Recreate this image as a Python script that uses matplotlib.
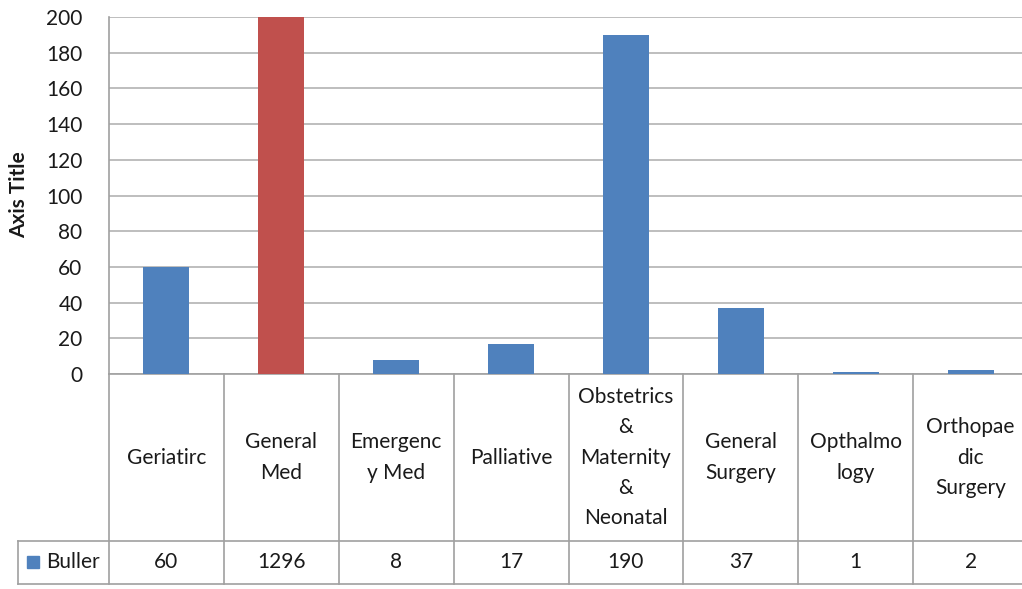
import matplotlib
matplotlib.use('AGG')
import matplotlib.pyplot as plt
import matplotlib.transforms as mtransforms
import numpy as np

plt.rcParams['font.family'] = ['Lato', 'DejaVu Sans']

categories = ['Geriatirc', 'General\nMed', 'Emergenc\ny Med', 'Palliative',
              'Obstetrics\n&\nMaternity\n&\nNeonatal', 'General\nSurgery',
              'Opthalmo\nlogy', 'Orthopae\ndic\nSurgery']
buller = [60, 1296, 8, 17, 190, 37, 1, 2]
series_name = 'Buller'
highlight = 'General\nMed'
y_ticks = list(range(0, 201, 20))

blue = '#4F81BD'
red = '#C0504D'
grid_col = '#B3B3B3'
line_col = '#A0A0A0'
txt_col = '#1A1A1A'
fs = 15

W, H = 1022, 589
fig = plt.figure(figsize=(W / 100, H / 100), dpi=100)
# plot area in pixels: x 109 -> 1028 (cropped at right), y 17 -> 374
ax = fig.add_axes([109 / W, 1 - 374 / H, 919 / W, 357 / H])

x = np.arange(len(categories))
colors = [red if c == highlight else blue for c in categories]
ax.bar(x, buller, width=0.4, color=colors, zorder=3)

ax.set_xlim(-0.5, len(categories) - 0.5)
ax.set_ylim(0, 200)
ax.set_yticks(y_ticks)
ax.tick_params(axis='y', length=0, pad=19, labelsize=fs, labelcolor=txt_col)
ax.set_xticks([])
ax.yaxis.grid(True, color=grid_col, linewidth=1.2, zorder=0)
for s in ['top', 'right']:
    ax.spines[s].set_visible(False)
for s in ['left', 'bottom']:
    ax.spines[s].set_color(line_col)
    ax.spines[s].set_linewidth(1.2)
fig.text(19 / W, 1 - 195 / H, 'Axis Title', rotation=90, fontsize=15,
         fontweight='bold', ha='center', va='center', color=txt_col)

# data table below the plot
trans = mtransforms.blended_transform_factory(ax.transData, ax.transAxes)
ax_h = 357
row1 = (374 - 541) / ax_h
row2 = (374 - 584) / ax_h
left_hdr = -0.5 - (109 - 18) / (919 / len(categories))
kw = dict(transform=trans, color=line_col, linewidth=1.2, clip_on=False)
for i in range(len(categories) + 1):
    ax.plot([i - 0.5, i - 0.5], [0, row2], **kw)
ax.plot([left_hdr, len(categories) - 0.5], [row1, row1], **kw)
ax.plot([left_hdr, len(categories) - 0.5], [row2, row2], **kw)
ax.plot([left_hdr, left_hdr], [row1, row2], **kw)

for i, (c, v) in enumerate(zip(categories, buller)):
    ax.text(i, row1 / 2, c, transform=trans, ha='center', va='center',
            fontsize=fs, linespacing=1.65, color=txt_col)
    ax.text(i, (row1 + row2) / 2, str(v), transform=trans, ha='center',
            va='center', fontsize=fs, color=txt_col)

fig.patches.append(plt.Rectangle((27 / W, 1 - 568 / H), 12 / W, 12 / H,
                                 transform=fig.transFigure, color=blue))
fig.text(46 / W, 1 - 562 / H, series_name, ha='left', va='center',
         fontsize=fs, color=txt_col)

fig.savefig('out.png', dpi=100)
